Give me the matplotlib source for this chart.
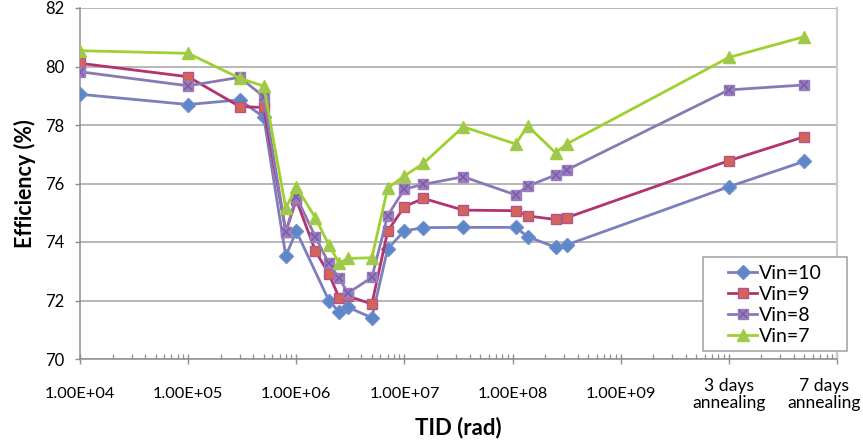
import matplotlib
matplotlib.use("Agg")
import matplotlib.pyplot as plt
import matplotlib.transforms as mtransforms
from matplotlib.patches import Rectangle
from matplotlib.ticker import LogLocator, FixedLocator, FixedFormatter, NullFormatter
from matplotlib.legend_handler import HandlerTuple

plt.rcParams['font.family'] = ['Lato', 'DejaVu Sans']

# TID dose points (rad); the last two are the 3-day and 7-day annealing steps
tid_10 = [1e4, 1e5, 3e5, 5e5, 8e5, 1e6, 2e6, 2.5e6, 3e6, 5e6, 7e6, 1e7, 1.5e7,
          3.5e7, 1.07e8, 1.38e8, 2.5e8, 3.16e8, 1e10, 5e10]
tid_all = [1e4, 1e5, 3e5, 5e5, 8e5, 1e6, 1.5e6, 2e6, 2.5e6, 3e6, 5e6, 7e6, 1e7, 1.5e7,
           3.5e7, 1.07e8, 1.38e8, 2.5e8, 3.16e8, 1e10, 5e10]

eff_vin10 = [79.05, 78.70, 78.86, 78.27, 73.52, 74.37, 72.00, 71.60, 71.77, 71.41,
             73.77, 74.38, 74.49, 74.50, 74.50, 74.18, 73.82, 73.90, 75.89, 76.76]
eff_vin9 = [80.11, 79.65, 78.63, 78.60, 74.35, 75.44, 73.70, 72.91, 72.08, 72.15, 71.88,
            74.37, 75.21, 75.49, 75.09, 75.07, 74.89, 74.77, 74.83, 76.78, 77.60]
eff_vin8 = [79.82, 79.34, 79.63, 78.97, 74.35, 75.55, 74.18, 73.27, 72.76, 72.25, 72.79,
            74.90, 75.81, 75.97, 76.23, 75.61, 75.91, 76.29, 76.46, 79.20, 79.37]
eff_vin7 = [80.54, 80.45, 79.60, 79.33, 75.15, 75.89, 74.83, 73.90, 73.27, 73.44, 73.46,
            75.84, 76.26, 76.69, 77.94, 77.35, 77.97, 77.05, 77.35, 80.31, 81.02]

series_labels = ["Vin=10", "Vin=9", "Vin=8", "Vin=7"]
x_tick_values = [1e4, 1e5, 1e6, 1e7, 1e8, 1e9, 1e10, 1e11]
x_tick_labels = ["1.00E+04", "1.00E+05", "1.00E+06", "1.00E+07", "1.00E+08",
                 "1.00E+09", "3 days\nannealing", "7 days\nannealing"]
y_ticks = [70, 72, 74, 76, 78, 80, 82]

W, H = 863, 441
fig = plt.figure(figsize=(W / 100, H / 100), dpi=100)
ax = fig.add_axes([80 / W, 1 - 359 / H, 757 / W, 351 / H])

lw = 2.0
ms = 7.5

h10, = ax.plot(tid_10, eff_vin10, color='#7C7EBE', lw=lw, marker='D', ms=ms * 0.9,
               mfc='#5D87C6', mec='#6F8DCF', mew=1.0, zorder=3)
h9, = ax.plot(tid_all, eff_vin9, color='#B2336E', lw=lw, marker='s', ms=ms,
              mfc='#D4635A', mec='#B4548C', mew=1.0, zorder=4)
h8, = ax.plot(tid_all, eff_vin8, color='#8A79B7', lw=lw, marker='s', ms=ms,
              mfc='#9A7DBE', mec='#9A7DBE', mew=1.0, zorder=5)
h8x, = ax.plot(tid_all, eff_vin8, ls='none', marker='x', ms=ms * 0.85,
               mec='#7A5CA6', mew=1.1, zorder=6)
h7, = ax.plot(tid_all, eff_vin7, color='#9CD12F', lw=lw, marker='^', ms=ms * 1.15,
              mfc='#A2C45C', mec='#9CD12F', mew=1.0, zorder=7)

ax.set_xscale('log')
ax.set_xlim(1e4, 1e11)
ax.set_ylim(70, 82)

ax.xaxis.set_major_locator(FixedLocator(x_tick_values))
ax.xaxis.set_major_formatter(FixedFormatter(x_tick_labels))
ax.xaxis.set_minor_locator(LogLocator(base=10, subs=range(2, 10), numticks=20))
ax.xaxis.set_minor_formatter(NullFormatter())
ax.set_yticks(y_ticks)

ax.grid(axis='y', color='#A3A3A3', lw=1.1)
ax.set_axisbelow(True)

for side in ['left', 'bottom']:
    ax.spines[side].set_color('#8E8E8E')
    ax.spines[side].set_linewidth(1.1)
ax.spines['top'].set_visible(False)
ax.spines['right'].set_color('#CDCDCD')
ax.spines['right'].set_linewidth(1.6)

ax.tick_params(axis='x', which='major', direction='inout', length=7, width=1.0,
               color='#8E8E8E', labelsize=11.8, pad=22)
ax.tick_params(axis='x', which='minor', direction='in', length=3.5, width=0.9,
               color='#8E8E8E')
ax.tick_params(axis='y', which='major', direction='out', length=3.5, width=1.0,
               color='#8E8E8E', labelsize=12, pad=8)

xlabels = ax.get_xticklabels()
for lab in xlabels:
    lab.set_va('center')
    lab.set_linespacing(1.05)
for lab in xlabels[-2:]:
    lab.set_fontsize(12.6)
last = xlabels[-1]
last.set_transform(last.get_transform() +
                   mtransforms.ScaledTranslation(-13 / 100, 0, fig.dpi_scale_trans))

ax.set_xlabel("TID (rad)", fontsize=16, fontweight='bold', labelpad=4)
ax.set_ylabel("Efficiency (%)", fontsize=15.5, fontweight='bold', labelpad=6)

# legend box
fig.patches.append(Rectangle((703 / W, 1 - 351 / H), 144 / W, 94 / H,
                             transform=fig.transFigure, facecolor='white',
                             edgecolor='#A0A0A0', lw=1.1, zorder=2))
leg = fig.legend([h10, h9, (h8, h8x), h7], series_labels,
                 handler_map={tuple: HandlerTuple(ndivide=1, pad=0)},
                 loc='center', bbox_to_anchor=(775 / W, 1 - 305 / H),
                 fontsize=14, frameon=False, handlelength=1.5, handletextpad=0.1,
                 labelspacing=0.2, borderpad=0.0)
leg.set_zorder(5)

fig.savefig("out.png", dpi=100)
